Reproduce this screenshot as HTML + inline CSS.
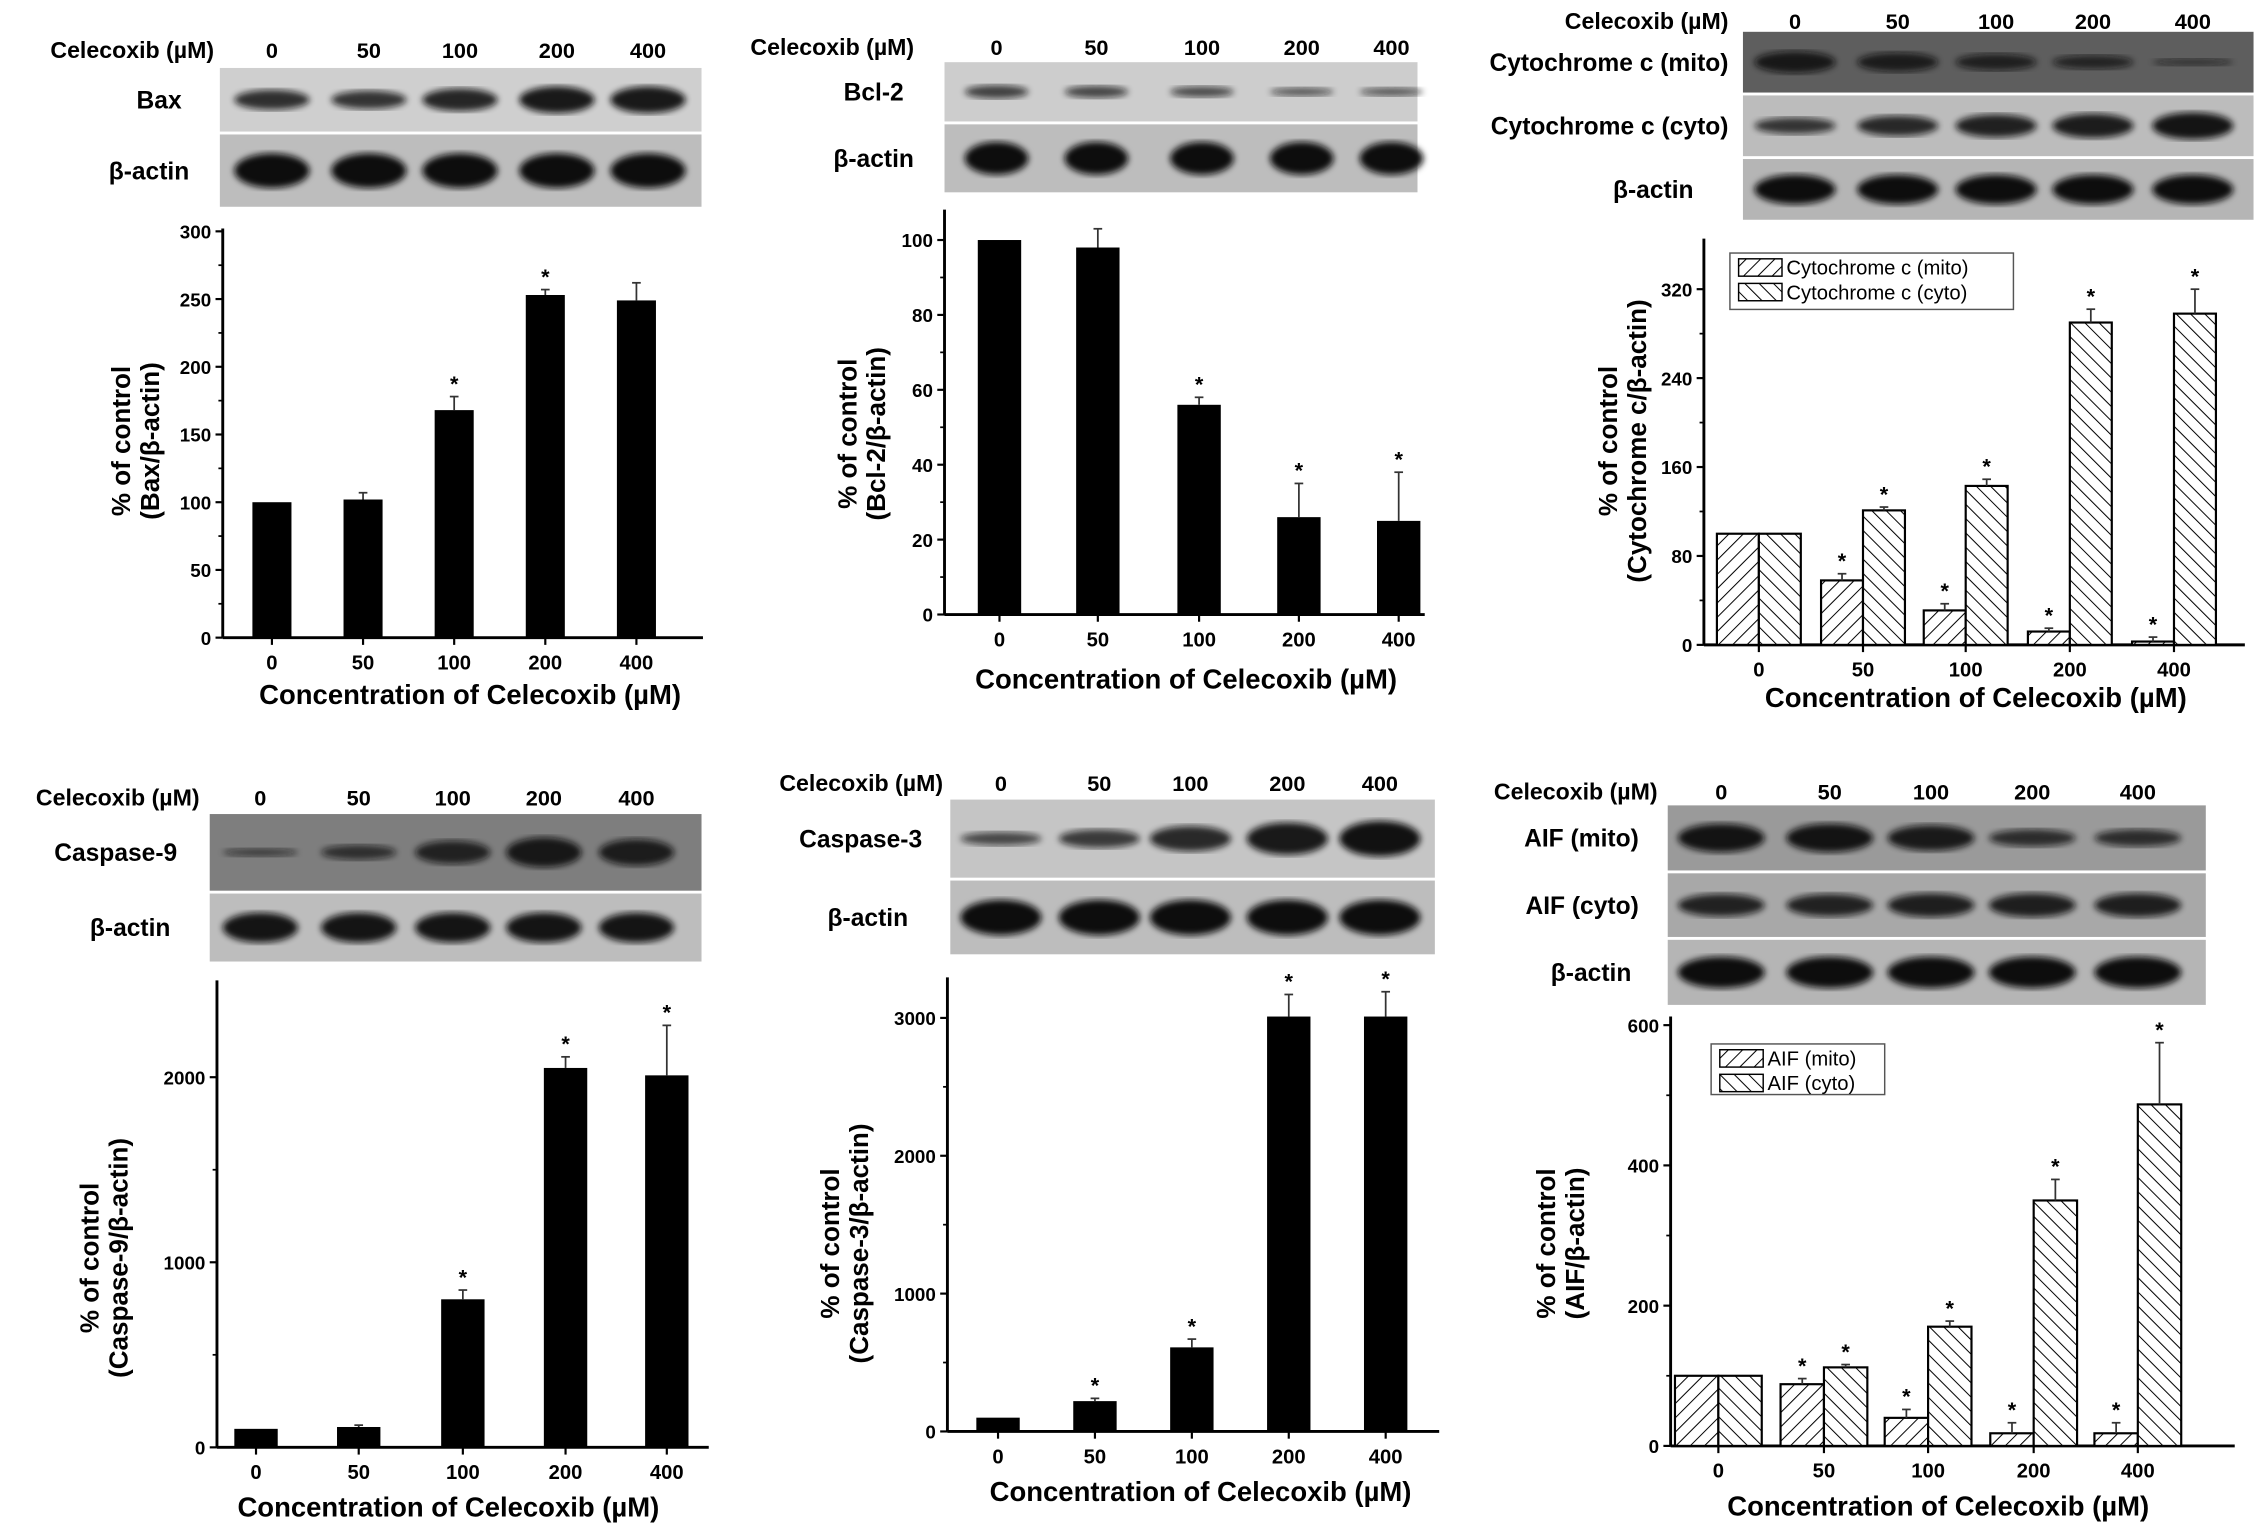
<!DOCTYPE html>
<html><head><meta charset="utf-8">
<style>
html,body{margin:0;padding:0;background:#fff;}
svg{display:block;font-family:"Liberation Sans",Arial,sans-serif;font-weight:bold;}
</style></head>
<body>
<svg id="fig" width="2268" height="1537" viewBox="0 0 1568 1063" preserveAspectRatio="none" xmlns="http://www.w3.org/2000/svg">
<defs>
<pattern id="hatchF" patternUnits="userSpaceOnUse" width="7" height="7" patternTransform="rotate(45)">
<rect width="7" height="7" fill="#fff"/><line x1="0" y1="0" x2="0" y2="7" stroke="#000" stroke-width="1.4"/></pattern>
<pattern id="hatchB" patternUnits="userSpaceOnUse" width="7" height="7" patternTransform="rotate(-45)">
<rect width="7" height="7" fill="#fff"/><line x1="0" y1="0" x2="0" y2="7" stroke="#000" stroke-width="1.4"/></pattern>
<filter id="blur"><feGaussianBlur stdDeviation="2.2"/></filter>
</defs>
<g id="root"></g>
</svg>
<script>
const cats=["0","50","100","200","400"];
// Bax
const baxVals=[100,102,168,253,249];
const baxErr=[0,5,10,4,13];
const baxStar=[0,0,1,1,0];
const baxTicks=[0,50,100,150,200,250,300];
// Bcl-2
const bclVals=[100,98,56,26,25];
const bclErr=[0,5,2,9,13];
const bclStar=[0,0,1,1,1];
const bclTicks=[0,20,40,60,80,100];
// Cytochrome c
const cytMitoVals=[100,58,31,12,3];
const cytMitoErr=[0,6,6,3,4];
const cytMitoStar=[0,1,1,1,1];
const cytCytoVals=[100,121,143,290,298];
const cytCytoErr=[0,3,6,12,22];
const cytCytoStar=[0,1,1,1,1];
const cytTicks=[0,80,160,240,320];
// Caspase-9
const c9Vals=[100,110,800,2050,2010];
const c9Err=[0,10,50,60,270];
const c9Star=[0,0,1,1,1];
const c9Ticks=[0,1000,2000];
// Caspase-3
const c3Vals=[100,220,610,3010,3010];
const c3Err=[0,20,60,160,180];
const c3Star=[0,1,1,1,1];
const c3Ticks=[0,1000,2000,3000];
// AIF
const aifMitoVals=[100,88,40,18,18];
const aifMitoErr=[0,8,12,15,15];
const aifMitoStar=[0,1,1,1,1];
const aifCytoVals=[100,112,170,350,487];
const aifCytoErr=[0,4,8,30,88];
const aifCytoStar=[0,1,1,1,1];
const aifTicks=[0,200,400,600];

const NS="http://www.w3.org/2000/svg";
const root=document.getElementById('root');
function mk(tag,attrs,parent,text){const e=document.createElementNS(NS,tag);for(const k in attrs)e.setAttribute(k,attrs[k]);if(text!==undefined)e.textContent=text;(parent||root).appendChild(e);return e;}

function txt(x,y,s,size,anchor,name,parent){
  const t=mk('text',{x:x,y:y,'font-size':size,'text-anchor':anchor||'middle'},parent,s);
  
  
  return t;
}

function blot(b){
  const g=mk('g',{});
  
  
  txt(b.hx,b.hy,'Celecoxib (µM)',16,'end','blot-header-label',g);
  cats.forEach((c,i)=>txt(b.lanes[i],b.hy,c,15,'middle','lane-label-'+c,g));
  b.rows.forEach((r,ri)=>{
    const rr=mk('rect',{x:b.x,y:r.y,width:b.w,height:r.h,fill:r.bg},g);
    
    
    r.int.forEach((v,i)=>{
      const e=mk('ellipse',{cx:b.lanes[i],cy:r.y+r.h*0.5,rx:b.rx,ry:r.h*0.22*v+1,fill:'#111',opacity:0.55+0.45*v,filter:'url(#blur)'},g);
      
      
    });
    txt(r.lx,r.y+r.h*0.5+6,r.label,17,r.la||'middle','blot-row-label',g);
  });
}

function chart(c){
  const g=mk('g',{});
  
  
  const y=v=>c.y0-(v/c.vmax)*(c.y0-c.ymaxPix);
  const xs=c.xc;
  mk('line',{x1:c.ax,y1:c.y0,x2:c.ax,y2:c.top,stroke:'#000','stroke-width':2},g);
  mk('line',{x1:c.ax,y1:c.y0,x2:c.xend,y2:c.y0,stroke:'#000','stroke-width':2},g);
  c.ticks.forEach((t,i)=>{
    mk('line',{x1:c.ax-5,y1:y(t),x2:c.ax,y2:y(t),stroke:'#000','stroke-width':1.5},g);
    txt(c.ax-8,y(t)+5,String(t),13,'end','y-tick-label',g);
    if(i<c.ticks.length-1){const m=(t+c.ticks[i+1])/2;mk('line',{x1:c.ax-3,y1:y(m),x2:c.ax,y2:y(m),stroke:'#000','stroke-width':1.2},g);}
  });
  cats.forEach((cat,i)=>{
    mk('line',{x1:xs[i],y1:c.y0,x2:xs[i],y2:c.y0+5,stroke:'#000','stroke-width':1.5},g);
    txt(xs[i],c.y0+22,cat,14,'middle','x-tick-label-'+cat,g);
  });
  c.series.forEach((s,si)=>{
    s.vals.forEach((v,i)=>{
      const cx=xs[i]+s.off, top=y(v);
      const r=mk('rect',{x:cx-c.bw/2,y:top,width:c.bw,height:c.y0-top,fill:s.fill,stroke:'#000','stroke-width':s.fill==='#000'?0:1.5},g);
      
      
      if(s.err[i]>0){
        const ye=y(v+s.err[i]);
        mk('line',{x1:cx,y1:top,x2:cx,y2:ye,stroke:'#333','stroke-width':1.2},g);
        mk('line',{x1:cx-3,y1:ye,x2:cx+3,y2:ye,stroke:'#333','stroke-width':1.2},g);
      }
      if(s.star[i]){txt(cx,y(v+s.err[i])-4,'*',15,'middle','significance-star',g);}
    });
  });
  txt(c.tx,c.ty,'Concentration of Celecoxib (µM)',19,'middle','x-axis-title',g);
  const yt=mk('text',{transform:`translate(${c.ytx},${c.yty}) rotate(-90)`,'font-size':18,'text-anchor':'middle'},g);
  
  
  mk('tspan',{x:0,dy:0},yt,'% of control');
  mk('tspan',{x:0,dy:20},yt,c.ylab);
  if(c.legend){
    const L=c.legend;
    const lg=mk('g',{},g);
    
    
    mk('rect',{x:L.x,y:L.y,width:L.w,height:L.h,fill:'#fff',stroke:'#555','stroke-width':1},lg);
    c.series.forEach((s,si)=>{
      mk('rect',{x:L.x+6,y:L.y+4+si*17,width:30,height:12,fill:s.fill,stroke:'#000','stroke-width':1},lg);
      const t=txt(L.x+39,L.y+15+si*17,s.label,14,'start','legend-entry-'+s.key,lg);
      t.setAttribute('font-weight','normal');
    });
  }
}

// Panel 1 Bax
blot({name:'bax-blot',hx:148,hy:40,x:152,w:333,lanes:[188,255,318,385,448],rx:26,
 rows:[{y:47,h:44,bg:'#cfcfcf',int:[0.6,0.55,0.7,0.85,0.85],label:'Bax',lx:110},
       {y:93,h:50,bg:'#bdbdbd',int:[1,1,1,1,1],label:'β-actin',lx:103}]});
chart({name:'bax-chart',ax:154,y0:441,top:158,ymaxPix:160,vmax:300,xend:486,xc:[188,251,314,377,440],bw:27,ticks:baxTicks,
 series:[{key:'bax',vals:baxVals,err:baxErr,star:baxStar,fill:'#000',off:0}],
 tx:325,ty:487,ytx:90,yty:305,ylab:'(Bax/β-actin)'});
// Panel 2 Bcl-2
blot({name:'bcl2-blot',hx:632,hy:38,x:653,w:327,lanes:[689,758,831,900,962],rx:22,
 rows:[{y:43,h:41,bg:'#cdcdcd',int:[0.4,0.35,0.3,0.2,0.2],label:'Bcl-2',lx:604},
       {y:86,h:47,bg:'#bdbdbd',int:[1,1,1,1,1],label:'β-actin',lx:604}]});
chart({name:'bcl2-chart',ax:653,y0:425,top:145,ymaxPix:166,vmax:100,xend:985,xc:[691,759,829,898,967],bw:30,ticks:bclTicks,
 series:[{key:'bcl2',vals:bclVals,err:bclErr,star:bclStar,fill:'#000',off:0}],
 tx:820,ty:476,ytx:592,yty:300,ylab:'(Bcl-2/β-actin)'});
// Panel 3 Cytochrome c
blot({name:'cytochrome-c-blot',hx:1195,hy:20,x:1205,w:353,lanes:[1241,1312,1380,1447,1516],rx:28,
 rows:[{y:22,h:42,bg:'#5e5e5e',int:[0.7,0.6,0.5,0.4,0.15],label:'Cytochrome c (mito)',lx:1195,la:'end'},
       {y:66,h:42,bg:'#bcbcbc',int:[0.5,0.65,0.75,0.8,0.9],label:'Cytochrome c (cyto)',lx:1195,la:'end'},
       {y:110,h:42,bg:'#b5b5b5',int:[1,1,1,1,1],label:'β-actin',lx:1143}]});
chart({name:'cytochrome-c-chart',ax:1178,y0:446,top:165,ymaxPix:200,vmax:320,xend:1552,xc:[1216,1288,1359,1431,1503],bw:29,ticks:cytTicks,
 series:[{key:'mito',label:'Cytochrome c (mito)',vals:cytMitoVals,err:cytMitoErr,star:cytMitoStar,fill:'url(#hatchF)',off:-14.5},
         {key:'cyto',label:'Cytochrome c (cyto)',vals:cytCytoVals,err:cytCytoErr,star:cytCytoStar,fill:'url(#hatchB)',off:14.5}],
 legend:{x:1196,y:175,w:196,h:39},
 tx:1366,ty:489,ytx:1118,yty:305,ylab:'(Cytochrome c/β-actin)'});
// Panel 4 Caspase-9
blot({name:'caspase-9-blot',hx:138,hy:557,x:145,w:340,lanes:[180,248,313,376,440],rx:26,
 rows:[{y:563,h:53,bg:'#7e7e7e',int:[0.15,0.35,0.6,0.8,0.7],label:'Caspase-9',lx:80},
       {y:618,h:47,bg:'#bdbdbd',int:[0.9,0.9,0.9,0.9,0.9],label:'β-actin',lx:90}]});
chart({name:'caspase-9-chart',ax:150,y0:1001,top:678,ymaxPix:745,vmax:2000,xend:490,xc:[177,248,320,391,461],bw:30,ticks:c9Ticks,
 series:[{key:'casp9',vals:c9Vals,err:c9Err,star:c9Star,fill:'#000',off:0}],
 tx:310,ty:1049,ytx:68,yty:870,ylab:'(Caspase-9/β-actin)'});
// Panel 5 Caspase-3
blot({name:'caspase-3-blot',hx:652,hy:547,x:657,w:335,lanes:[692,760,823,890,954],rx:28,
 rows:[{y:553,h:54,bg:'#c5c5c5',int:[0.3,0.45,0.65,0.85,0.95],label:'Caspase-3',lx:595},
       {y:609,h:51,bg:'#bdbdbd',int:[1,1,1,1,1],label:'β-actin',lx:600}]});
chart({name:'caspase-3-chart',ax:655,y0:990,top:676,ymaxPix:704,vmax:3000,xend:995,xc:[690,757,824,891,958],bw:30,ticks:c3Ticks,
 series:[{key:'casp3',vals:c3Vals,err:c3Err,star:c3Star,fill:'#000',off:0}],
 tx:830,ty:1038,ytx:580,yty:860,ylab:'(Caspase-3/β-actin)'});
// Panel 6 AIF
blot({name:'aif-blot',hx:1146,hy:553,x:1153,w:372,lanes:[1190,1265,1335,1405,1478],rx:30,
 rows:[{y:557,h:45,bg:'#9a9a9a',int:[0.9,0.9,0.8,0.5,0.5],label:'AIF (mito)',lx:1133,la:'end'},
       {y:604,h:44,bg:'#a8a8a8',int:[0.7,0.7,0.75,0.75,0.75],label:'AIF (cyto)',lx:1133,la:'end'},
       {y:650,h:45,bg:'#b5b5b5',int:[1,1,1,1,1],label:'β-actin',lx:1100}]});
chart({name:'aif-chart',ax:1155,y0:1000,top:703,ymaxPix:709,vmax:600,xend:1545,xc:[1188,1261,1333,1406,1478],bw:30,ticks:aifTicks,
 series:[{key:'mito',label:'AIF (mito)',vals:aifMitoVals,err:aifMitoErr,star:aifMitoStar,fill:'url(#hatchF)',off:-15},
         {key:'cyto',label:'AIF (cyto)',vals:aifCytoVals,err:aifCytoErr,star:aifCytoStar,fill:'url(#hatchB)',off:15}],
 legend:{x:1183,y:722,w:120,h:35},
 tx:1340,ty:1048,ytx:1075,yty:860,ylab:'(AIF/β-actin)'});
</script>
</body></html>
